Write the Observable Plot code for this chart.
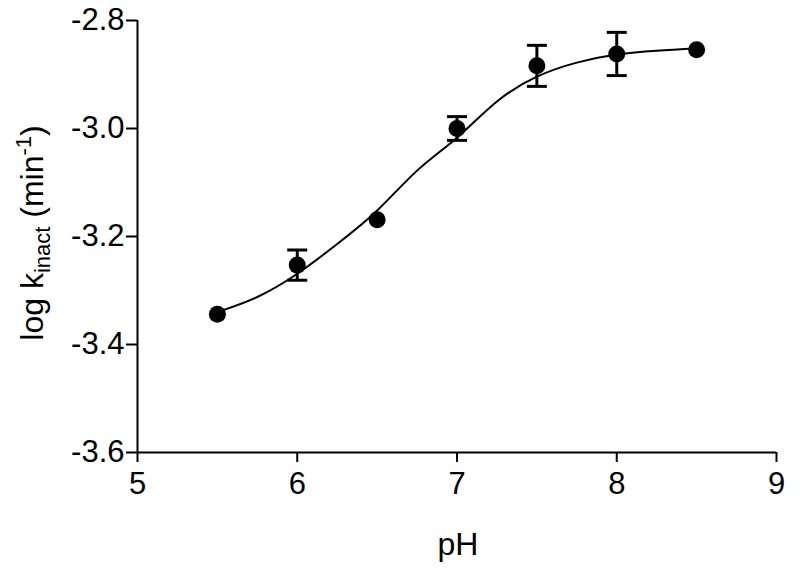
<!DOCTYPE html>
<html>
<head>
<meta charset="utf-8">
<script src="https://cdn.jsdelivr.net/npm/d3@7"></script>
<script src="https://cdn.jsdelivr.net/npm/@observablehq/plot@0.6"></script>
<style>
  html, body { margin: 0; padding: 0; background: #fff; }
  svg { font-family: Arial, "Liberation Sans", Helvetica, sans-serif; }
</style>
</head>
<body>
<div id="chart"></div>
<script>
// Measured points (mean ± error)
const ph   = [5.5, 6.0, 6.5, 7.0, 7.5, 8.0, 8.5];
const logk = [-3.344, -3.253, -3.169, -3.000, -2.884, -2.862, -2.854];
const err  = [null, 0.028, null, 0.022, 0.038, 0.040, null];

// Fitted curve
const fitPh   = [5.5, 5.75, 6.0, 6.25, 6.5, 6.75, 7.0, 7.25, 7.5, 7.75, 8.0, 8.25, 8.5];
const fitLogk = [-3.340, -3.312, -3.269, -3.214, -3.152, -3.078, -3.017, -2.950, -2.904, -2.878, -2.863, -2.856, -2.852];

// Axis ticks
const xTicks = [5, 6, 7, 8, 9];
const yTicks = [-3.6, -3.4, -3.2, -3.0, -2.8];

const points = ph.map((p, i) => ({ph: p, y: logk[i], e: err[i]}));
const withErr = points.filter(d => d.e != null);
const fit = fitPh.map((p, i) => ({ph: p, y: fitLogk[i]}));

const capSymbol = {
  draw(context, size) {
    const h = Math.sqrt(size / Math.PI);
    context.moveTo(-h, 0);
    context.lineTo(h, 0);
  }
};

const chart = Plot.plot({
  width: 800,
  height: 570,
  marginLeft: 137,
  marginRight: 24,
  marginTop: 20,
  marginBottom: 118,
  style: {fontFamily: "Arial, 'Liberation Sans', sans-serif", background: "#fff", color: "#000"},
  x: {domain: [5, 9]},
  y: {domain: [-3.6, -2.8]},
  marks: [
    Plot.axisX({ticks: xTicks, tickSize: 10, tickPadding: 9, fontSize: 31, tickFormat: d3.format("d"), strokeWidth: 2, label: null}),
    Plot.axisY({ticks: yTicks, tickSize: 11, tickPadding: 2, fontSize: 31, tickFormat: d => d3.format(".1f")(d).replace("−", "-"), strokeWidth: 2, label: null}),
    Plot.ruleX([5], {stroke: "#000", strokeWidth: 2}),
    Plot.ruleY([-3.6], {stroke: "#000", strokeWidth: 2}),
    Plot.line(fit, {x: "ph", y: "y", curve: "natural", stroke: "#000", strokeWidth: 2}),
    Plot.ruleX(withErr, {x: "ph", y1: d => d.y - d.e, y2: d => d.y + d.e, stroke: "#000", strokeWidth: 3}),
    Plot.dot(withErr, {x: "ph", y: d => d.y + d.e, symbol: capSymbol, r: 10, stroke: "#000", strokeWidth: 3}),
    Plot.dot(withErr, {x: "ph", y: d => d.y - d.e, symbol: capSymbol, r: 10, stroke: "#000", strokeWidth: 3}),
    Plot.dot(points, {x: "ph", y: "y", r: 8.5, fill: "#000", stroke: null})
  ]
});

document.getElementById("chart").appendChild(chart);

// Axis titles as real SVG text
const svg = d3.select(chart);
svg.append("text")
  .attr("x", 458).attr("y", 555)
  .attr("text-anchor", "middle")
  .attr("font-size", 32)
  .attr("fill", "#000")
  .text("pH");

const yl = svg.append("text")
  .attr("transform", "translate(43,233) rotate(-90)")
  .attr("text-anchor", "middle")
  .attr("font-size", 32)
  .attr("fill", "#000");
yl.append("tspan").text("log k");
yl.append("tspan").attr("font-size", 22).attr("dy", 7).text("inact");
yl.append("tspan").attr("dy", -7).text(" (min");
yl.append("tspan").attr("font-size", 22).attr("dy", -12).text("-1");
yl.append("tspan").attr("dy", 12).text(")");
</script>
</body>
</html>
